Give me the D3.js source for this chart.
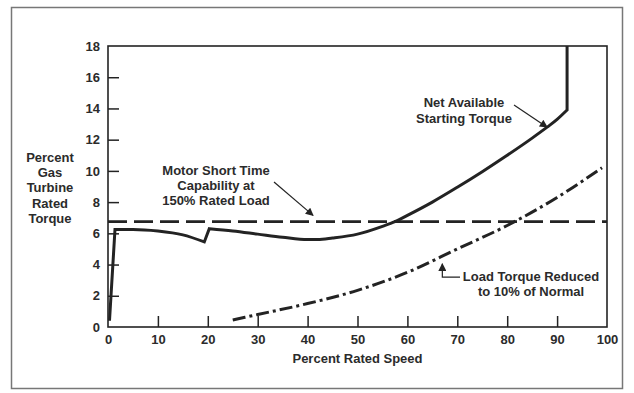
<!DOCTYPE html>
<html>
<head>
<meta charset="utf-8">
<script src="https://cdn.jsdelivr.net/npm/d3@7"></script>
<style>
  html, body { margin: 0; padding: 0; background: #fff; }
  svg text { font-family: "Liberation Sans", Arial, sans-serif; font-weight: bold; fill: #2b2b2b; }
</style>
</head>
<body>
<svg id="chart" width="634" height="393"></svg>
<script>
// Net available starting torque (percent rated speed, percent GT rated torque)
const netSpeed  = [0.3, 1.4, 5, 10, 15, 19.3, 20.3, 25, 30, 35, 40, 42, 45, 50, 55, 57.5, 60, 65, 70, 75, 80, 85, 88, 90, 92, 92];
const netTorque = [0.4, 6.25, 6.25, 6.15, 5.9, 5.45, 6.3, 6.15, 5.95, 5.75, 5.6, 5.6, 5.7, 5.95, 6.45, 6.75, 7.15, 8.0, 8.95, 9.95, 11.0, 12.1, 12.8, 13.3, 13.9, 18];
// indices where the curve has a sharp corner
const netCorners = [1, 5, 6, 24];

// Load torque reduced to 10% of normal
const loadSpeed  = [25, 30, 40, 50, 60, 70, 80, 90, 99];
const loadTorque = [0.45, 0.8, 1.5, 2.35, 3.5, 5.0, 6.5, 8.3, 10.2];

// Motor short time capability at 150% rated load
const motorLimit = 6.75;

const xTicks = [0, 10, 20, 30, 40, 50, 60, 70, 80, 90, 100];
const yTicks = [0, 2, 4, 6, 8, 10, 12, 14, 16, 18];

const svg = d3.select("#chart");
const ink = "#232323";
const fs = 13;

const x = d3.scaleLinear().domain([0, 100]).range([108, 607]);
const y = d3.scaleLinear().domain([0, 18]).range([327, 46]);

// outer border of the figure
svg.append("rect")
  .attr("x", 11.5).attr("y", 7.5).attr("width", 611).attr("height", 381)
  .attr("fill", "none").attr("stroke", "#777").attr("stroke-width", 1.5);

// inward ticks on the left axis
const yAxis = d3.axisLeft(y).tickValues(yTicks).tickSizeInner(-11).tickSizeOuter(0)
  .tickFormat(d3.format("d"));
const gy = svg.append("g").attr("transform", `translate(${x(0)},0)`).call(yAxis);
gy.select(".domain").remove();
gy.selectAll(".tick line").attr("stroke", ink).attr("stroke-width", 1.5)
  .filter(d => d === 0 || d === 18).remove();
gy.selectAll(".tick text").attr("font-size", fs).attr("fill", "#2b2b2b")
  .attr("font-family", null).attr("x", -8);

// inward ticks on the bottom axis
const xAxis = d3.axisBottom(x).tickValues(xTicks).tickSizeInner(-11).tickSizeOuter(0)
  .tickFormat(d3.format("d"));
const gx = svg.append("g").attr("transform", `translate(0,${y(0)})`).call(xAxis);
gx.select(".domain").remove();
gx.selectAll(".tick line").attr("stroke", ink).attr("stroke-width", 1.5)
  .filter(d => d === 0 || d === 100).remove();
gx.selectAll(".tick text").attr("font-size", fs).attr("fill", "#2b2b2b")
  .attr("font-family", null).attr("y", 8);

// plot frame
svg.append("rect")
  .attr("x", x(0)).attr("y", y(18)).attr("width", x(100) - x(0)).attr("height", y(0) - y(18))
  .attr("fill", "none").attr("stroke", ink).attr("stroke-width", 1.6);

// axis titles
svg.append("text").attr("x", (x(0) + x(100)) / 2).attr("y", 363)
  .attr("text-anchor", "middle").attr("font-size", fs).text("Percent Rated Speed");

const yTitle = ["Percent", "Gas", "Turbine", "Rated", "Torque"];
svg.append("text").attr("text-anchor", "middle").attr("font-size", fs)
  .selectAll("tspan").data(yTitle).join("tspan")
  .attr("x", 50).attr("y", (d, i) => 162 + i * 15.2).text(d => d);

// motor capability (long dashes)
svg.append("line")
  .attr("x1", x(0)).attr("x2", x(100)).attr("y1", y(motorLimit)).attr("y2", y(motorLimit))
  .attr("stroke", ink).attr("stroke-width", 2.6).attr("stroke-dasharray", "19 7");

// load torque (dash-dot)
const smooth = d3.line().x(d => x(d[0])).y(d => y(d[1])).curve(d3.curveMonotoneX);
svg.append("path")
  .datum(d3.zip(loadSpeed, loadTorque))
  .attr("d", smooth)
  .attr("fill", "none").attr("stroke", ink).attr("stroke-width", 3)
  .attr("stroke-dasharray", "13 4 3 4");

// net available torque: smooth runs joined at sharp corners
const netPts = d3.zip(netSpeed, netTorque);
const breaks = [0, ...netCorners, netPts.length - 1];
let netPath = "";
for (let i = 0; i < breaks.length - 1; i++) {
  const seg = netPts.slice(breaks[i], breaks[i + 1] + 1);
  const d = smooth(seg);
  netPath += i === 0 ? d : "L" + d.slice(1);
}
svg.append("path")
  .attr("d", netPath)
  .attr("fill", "none").attr("stroke", ink).attr("stroke-width", 3).attr("stroke-linejoin", "miter");

// arrowheads
const defs = svg.append("defs");
defs.append("marker").attr("id", "head")
  .attr("viewBox", "0 0 10 10").attr("refX", 9).attr("refY", 5)
  .attr("markerWidth", 10).attr("markerHeight", 8).attr("markerUnits", "userSpaceOnUse")
  .attr("orient", "auto")
  .append("path").attr("d", "M0,0 L10,5 L0,10 z").attr("fill", ink);

function note(lines, cx, y0, dy) {
  svg.append("text").attr("text-anchor", "middle").attr("font-size", fs)
    .selectAll("tspan").data(lines).join("tspan")
    .attr("x", cx).attr("y", (d, i) => y0 + i * dy).text(d => d);
}

note(["Motor Short Time", "Capability at", "150% Rated Load"], 216, 175, 14.8);
svg.append("line").attr("x1", 274).attr("y1", 182).attr("x2", x(41.1)).attr("y2", y(7.15))
  .attr("stroke", ink).attr("stroke-width", 1.2).attr("marker-end", "url(#head)");

note(["Net Available", "Starting Torque"], 464, 107, 16);
svg.append("line").attr("x1", 514).attr("y1", 105).attr("x2", x(88)).attr("y2", y(12.8))
  .attr("stroke", ink).attr("stroke-width", 1.2).attr("marker-end", "url(#head)");

note(["Load Torque Reduced", "to 10% of Normal"], 531, 281, 14.8);
svg.append("path")
  .attr("d", `M460,${y(3.2)} H${x(67)} V${y(4.05)}`)
  .attr("fill", "none").attr("stroke", ink).attr("stroke-width", 1.2).attr("marker-end", "url(#head)");
</script>
</body>
</html>
